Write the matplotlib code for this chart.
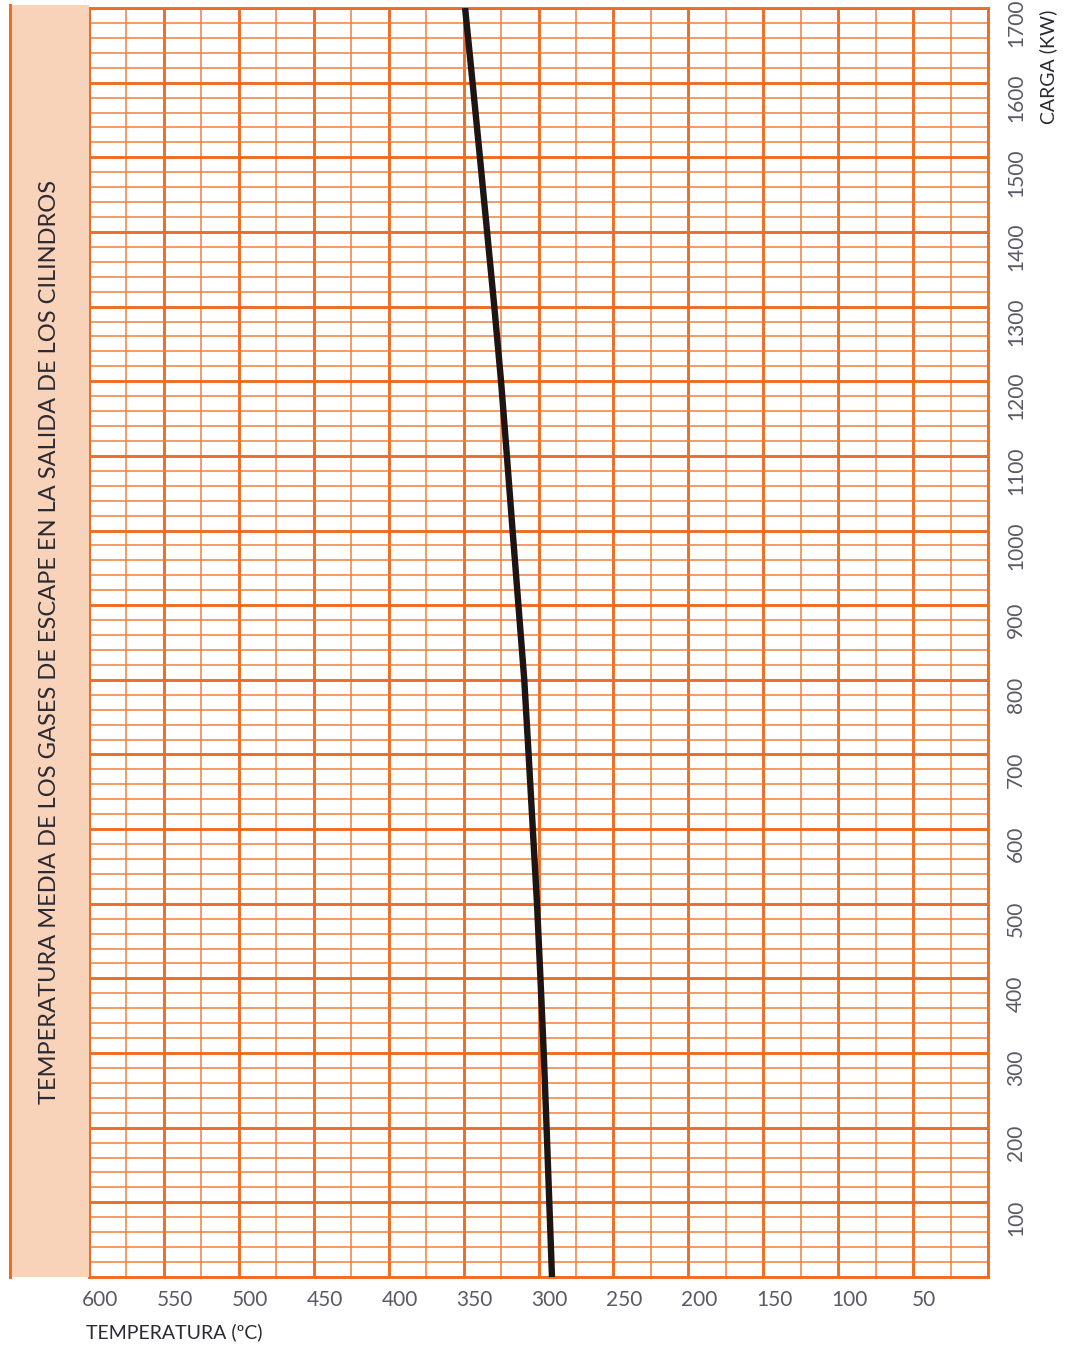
import matplotlib
matplotlib.use("Agg")
import matplotlib.pyplot as plt
from matplotlib.ticker import MultipleLocator
from matplotlib.transforms import ScaledTranslation
from matplotlib.patches import Rectangle
from matplotlib.lines import Line2D

# ---- data ----
load_kw = [0, 100, 200, 300, 400, 500, 600, 700, 800, 900, 1000, 1100, 1200,
           1300, 1400, 1500, 1600, 1700]
temp_c = [291.0, 292.8, 294.6, 296.5, 298.7, 301.0, 303.8, 306.6, 309.5, 313.4,
          317.3, 321.1, 325.0, 329.5, 334.3, 339.1, 344.0, 349.0]

x_ticks = [600, 550, 500, 450, 400, 350, 300, 250, 200, 150, 100, 50, 0]
x_tick_labels = ["600", "550", "500", "450", "400", "350", "300", "250",
                 "200", "150", "100", "50", ""]
y_ticks = [100, 200, 300, 400, 500, 600, 700, 800, 900, 1000, 1100, 1200,
           1300, 1400, 1500, 1600, 1700]
y_tick_labels = [str(v) for v in y_ticks]

side_title = "TEMPERATURA MEDIA DE LOS GASES DE ESCAPE EN LA SALIDA DE LOS CILINDROS"
x_title = "TEMPERATURA (ºC)"
y_title = "CARGA (KW)"

ORANGE = "#EE6D24"
ORANGE_MINOR = "#F0803C"
PEACH = "#F8D3B9"
FONT = ["Lato", "DejaVu Sans"]

W, H = 1067, 1346
fig = plt.figure(figsize=(W / 100, H / 100), dpi=100)
fig.patch.set_facecolor("white")

ax_l, ax_r, ax_t, ax_b = 89, 988, 8, 1277
ax = fig.add_axes([ax_l / W, 1 - ax_b / H, (ax_r - ax_l) / W, (ax_b - ax_t) / H])

# peach band with orange left border
fig.patches.append(Rectangle((9 / W, 1 - ax_b / H), (ax_l - 9) / W, (ax_b - 5) / H,
                             transform=fig.transFigure, facecolor=PEACH,
                             edgecolor="none", zorder=0))
fig.lines.append(Line2D([9.5 / W, 9.5 / W], [1 - ax_b / H, 1 - 5 / H],
                        transform=fig.transFigure, color=ORANGE, lw=2.2))

ax.plot(temp_c, load_kw, color="#1E1512", lw=4.6, solid_capstyle="butt",
        solid_joinstyle="round", zorder=5)

ax.set_xlim(600, 0)
ax.set_ylim(0, 1700)

ax.set_xticks(x_ticks)
ax.set_xticklabels(x_tick_labels)
ax.xaxis.set_minor_locator(MultipleLocator(25))
ax.set_yticks(y_ticks)
ax.set_yticklabels(y_tick_labels)
ax.yaxis.set_minor_locator(MultipleLocator(20))
ax.yaxis.tick_right()

ax.grid(which="major", color=ORANGE, lw=2.1)
ax.grid(which="minor", color=ORANGE_MINOR, lw=1.1)
ax.set_axisbelow(True)

ax.tick_params(which="both", length=0)
ax.tick_params(axis="x", pad=9, labelsize=15, labelcolor="#5A5A66")
ax.tick_params(axis="y", pad=13, labelsize=15, labelcolor="#5A5A66", labelrotation=90)
for lab in ax.get_xticklabels():
    lab.set_fontfamily(FONT)
    lab.set_transform(lab.get_transform() + ScaledTranslation(0.11, 0, fig.dpi_scale_trans))
for lab in ax.get_yticklabels():
    lab.set_fontfamily(FONT)
    lab.set_verticalalignment("center")
    lab.set_transform(lab.get_transform() + ScaledTranslation(0, -0.15, fig.dpi_scale_trans))

for s in ax.spines.values():
    s.set_color(ORANGE)
    s.set_linewidth(2.1)

fig.text(50 / W, 1 - 642 / H, side_title, rotation=90, ha="center", va="center",
         fontsize=17, color="#2A2A33", family=FONT)
fig.text(86 / W, 1 - 1332 / H, x_title, ha="left", va="center",
         fontsize=14, color="#2A2A33", family=FONT)
fig.text(1048 / W, 1 - 10 / H, y_title, rotation=90, ha="center", va="top",
         fontsize=14, color="#2A2A33", family=FONT)

fig.savefig("out.png", dpi=100)
